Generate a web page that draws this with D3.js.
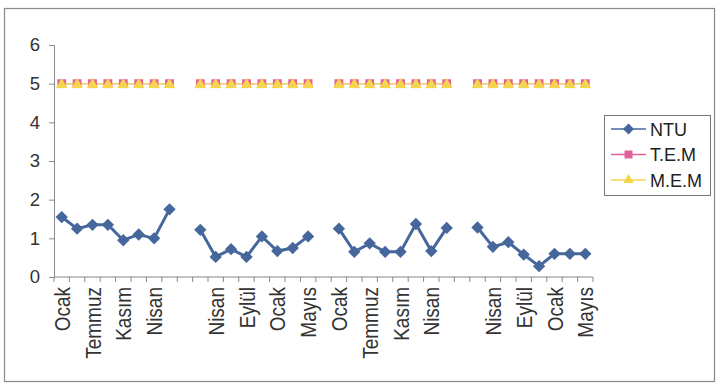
<!DOCTYPE html>
<html>
<head>
<meta charset="utf-8">
<script src="https://cdn.jsdelivr.net/npm/d3@7"></script>
<style>
  body { margin: 0; background: #fff; }
  text { font-family: "Liberation Sans", Arial, sans-serif; }
</style>
</head>
<body>
<div id="chart"></div>
<script>
// Category labels (only every second label is shown, gaps are empty)
const tickLabels = ["Ocak","","Temmuz","","Kasım","","Nisan","","",
  "","Nisan","","Eylül","","Ocak","","Mayıs","",
  "Ocak","","Temmuz","","Kasım","","Nisan","","",
  "","Nisan","","Eylül","","Ocak","","Mayıs"];

// Series values (null = gap between years)
const ntu = [1.55,1.25,1.35,1.35,0.95,1.1,1.0,1.75,null,
  1.22,0.52,0.72,0.52,1.05,0.67,0.75,1.05,null,
  1.25,0.65,0.87,0.65,0.65,1.37,0.67,1.27,null,
  1.28,0.78,0.9,0.58,0.28,0.6,0.6,0.6];
const tem = [5,5,5,5,5,5,5,5,null,5,5,5,5,5,5,5,5,null,
  5,5,5,5,5,5,5,5,null,5,5,5,5,5,5,5,5];
const mem = [5,5,5,5,5,5,5,5,null,5,5,5,5,5,5,5,5,null,
  5,5,5,5,5,5,5,5,null,5,5,5,5,5,5,5,5];
const yTicks = [0,1,2,3,4,5,6];

const seriesNames = ["NTU","T.E.M","M.E.M"];
const colors = ["#46679c","#e4609c","#f4d54c"];

const W = 717, H = 384;
const margin = { top: 45, right: 124, bottom: 107, left: 54 },
      width = W - margin.left - margin.right,
      height = H - margin.top - margin.bottom;

const root = d3.select("#chart").append("svg")
  .attr("width", W).attr("height", H);

// outer chart frame
root.append("rect")
  .attr("x", 4.5).attr("y", 8.5)
  .attr("width", 710).attr("height", 373)
  .attr("fill", "none").attr("stroke", "#8a8a8a").attr("stroke-width", 1.2);

const svg = root.append("g")
  .attr("transform", `translate(${margin.left},${margin.top})`);

const x = d3.scaleBand()
  .domain(d3.range(tickLabels.length))
  .range([0, width])
  .padding(0);
const cx = i => x(i) + x.bandwidth() / 2;

const y = d3.scaleLinear().domain([0, 6]).range([height, 0]);

// Y axis
const yAxis = svg.append("g")
  .call(d3.axisLeft(y).tickValues(yTicks).tickSize(5).tickPadding(9).tickFormat(d3.format("d")));
yAxis.selectAll("text").attr("font-size", 18.5).attr("fill", "#333")
  .attr("font-family", "Liberation Sans, Arial, sans-serif");
yAxis.selectAll("line, path").attr("stroke", "#888");

// X axis: ticks at category boundaries
const xAxis = svg.append("g").attr("transform", `translate(0,${height})`);
xAxis.append("line")
  .attr("x1", 0).attr("x2", width)
  .attr("stroke", "#888");
xAxis.selectAll(".tk")
  .data(d3.range(tickLabels.length + 1))
  .join("line")
  .attr("class", "tk")
  .attr("x1", d => d * x.bandwidth()).attr("x2", d => d * x.bandwidth())
  .attr("y1", 0).attr("y2", 5)
  .attr("stroke", "#888");
xAxis.selectAll(".lbl")
  .data(tickLabels.map((t, i) => ({ t, i })).filter(d => d.t))
  .join("text")
  .attr("class", "lbl")
  .attr("transform", d => `translate(${cx(d.i) + 8},10) rotate(-90) scale(1,1.15)`)
  .attr("text-anchor", "end")
  .attr("font-size", 19)
  .attr("fill", "#333")
  .text(d => d.t);

const line = d3.line()
  .defined(d => d != null)
  .x((d, i) => cx(i))
  .y(d => y(d));

const allSeries = [ntu, tem, mem];
const symbols = [
  d3.symbol().type(d3.symbolSquare).size(76),
  d3.symbol().type(d3.symbolSquare).size(78),
  d3.symbol().type(d3.symbolTriangle).size(58)
];
const rotations = [45, 0, 0];

allSeries.forEach((vals, s) => {
  svg.append("path")
    .datum(vals)
    .attr("fill", "none")
    .attr("stroke", colors[s])
    .attr("stroke-width", s === 0 ? 3 : 1.2)
    .attr("d", line);
});

allSeries.forEach((vals, s) => {
  svg.selectAll(`.m${s}`)
    .data(vals.map((v, i) => ({ v, i })).filter(d => d.v != null))
    .join("path")
    .attr("class", `m${s}`)
    .attr("d", symbols[s])
    .attr("fill", colors[s])
    .attr("transform", d => `translate(${cx(d.i)},${y(d.v) + (s === 2 ? 1 : 0)}) rotate(${rotations[s]})`);
});

// Legend
const legend = root.append("g").attr("transform", "translate(604,115)");
legend.append("rect")
  .attr("x", 0.5).attr("y", 0.5)
  .attr("width", 106).attr("height", 80)
  .attr("fill", "#fff").attr("stroke", "#777");
seriesNames.forEach((name, s) => {
  const ly = 14 + s * 25.5;
  const g = legend.append("g").attr("transform", `translate(0,${ly})`);
  g.append("line").attr("x1", 7).attr("x2", 42)
    .attr("stroke", colors[s]).attr("stroke-width", s === 0 ? 1.6 : 1.4);
  g.append("path").attr("d", symbols[s])
    .attr("fill", colors[s])
    .attr("transform", `translate(24.5,0) rotate(${rotations[s]}) scale(0.9)`);
  g.append("text").attr("x", 46).attr("y", 6.5)
    .attr("font-size", 18).attr("fill", "#222")
    .text(name);
});
</script>
</body>
</html>
